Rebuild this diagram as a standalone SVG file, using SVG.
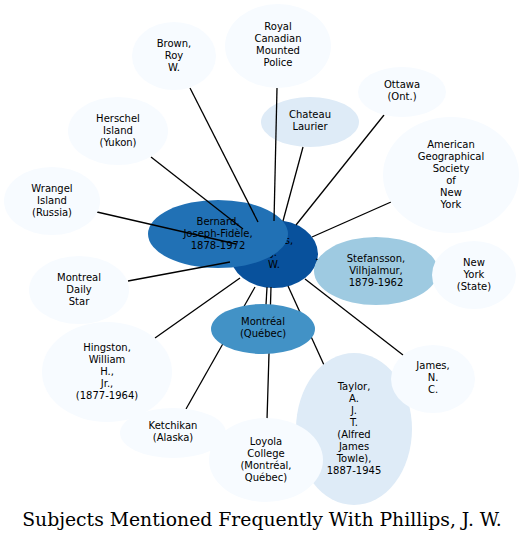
<svg xmlns="http://www.w3.org/2000/svg" width="524" height="541" viewBox="0 0 524 541">
<style>
text{font-family:"DejaVu Sans",sans-serif;font-size:10px;text-anchor:middle;fill:#000}
.e{stroke:#000;stroke-width:1.3;fill:none}
.t{font-family:"DejaVu Serif",serif;font-size:18.8px}
</style>
<rect width="524" height="541" fill="#fff"/>
<g id="n_phillips"><ellipse cx="274" cy="254" rx="44" ry="34" fill="#08519c"/><text x="274" y="244">Phillips,</text><text x="274" y="256">J.</text><text x="274" y="268">W.</text></g>
<g id="n_bernard"><ellipse cx="218" cy="234" rx="70" ry="34" fill="#2171b5"/><text x="218" y="225">Bernard,</text><text x="218" y="237">Joseph-Fidèle,</text><text x="218" y="249">1878-1972</text></g>
<g id="n_chateau"><ellipse cx="310" cy="122" rx="49" ry="25" fill="#deebf7"/><text x="310" y="118">Chateau</text><text x="310" y="130">Laurier</text></g>
<g id="edges">
<line class="e" x1="258" y1="222" x2="190" y2="88"/>
<line class="e" x1="274" y1="221" x2="277" y2="88"/>
<line class="e" x1="283" y1="221" x2="303" y2="147"/>
<line class="e" x1="296" y1="225" x2="384" y2="115"/>
<line class="e" x1="243" y1="229" x2="151" y2="157"/>
<line class="e" x1="312" y1="237" x2="391" y2="202"/>
<line class="e" x1="236" y1="244" x2="97" y2="212"/>
<line class="e" x1="230" y1="262" x2="128" y2="281"/>
<line class="e" x1="316" y1="259" x2="318" y2="260"/>
<line class="e" x1="240" y1="278" x2="155" y2="338"/>
<line class="e" x1="305" y1="279" x2="403" y2="355"/>
<line class="e" x1="255" y1="287" x2="186" y2="409"/>
<line class="e" x1="267" y1="287" x2="266" y2="305"/>
<line class="e" x1="271" y1="287" x2="267" y2="420"/>
<line class="e" x1="288" y1="286" x2="324" y2="365"/>
</g>
<g id="n_stefansson"><ellipse cx="376" cy="271" rx="62" ry="34" fill="#9ecae1"/><text x="376" y="262">Stefansson,</text><text x="376" y="274">Vilhjalmur,</text><text x="376" y="286">1879-1962</text></g>
<g id="n_montreal"><ellipse cx="263" cy="329" rx="52" ry="25" fill="#4292c6"/><text x="263" y="325">Montréal</text><text x="263" y="337">(Québec)</text></g>
<g id="n_taylor"><ellipse cx="354" cy="429" rx="58" ry="76" fill="#deebf7"/><text x="354" y="390">Taylor,</text><text x="354" y="402">A.</text><text x="354" y="414">J.</text><text x="354" y="426">T.</text><text x="354" y="438">(Alfred</text><text x="354" y="450">James</text><text x="354" y="462">Towle),</text><text x="354" y="474">1887-1945</text></g>
<g id="n_rcmp"><ellipse cx="278" cy="46" rx="53" ry="42" fill="#f7fbff"/><text x="278" y="30">Royal</text><text x="278" y="42">Canadian</text><text x="278" y="54">Mounted</text><text x="278" y="66">Police</text></g>
<g id="n_brown"><ellipse cx="174" cy="56" rx="42" ry="34" fill="#f7fbff"/><text x="174" y="47">Brown,</text><text x="174" y="59">Roy</text><text x="174" y="71">W.</text></g>
<g id="n_ottawa"><ellipse cx="402" cy="92" rx="44" ry="25" fill="#f7fbff"/><text x="402" y="88">Ottawa</text><text x="402" y="100">(Ont.)</text></g>
<g id="n_herschel"><ellipse cx="118" cy="131" rx="50" ry="34" fill="#f7fbff"/><text x="118" y="122">Herschel</text><text x="118" y="134">Island</text><text x="118" y="146">(Yukon)</text></g>
<g id="n_ags"><ellipse cx="451" cy="175" rx="68" ry="58" fill="#f7fbff"/><text x="451" y="148">American</text><text x="451" y="160">Geographical</text><text x="451" y="172">Society</text><text x="451" y="184">of</text><text x="451" y="196">New</text><text x="451" y="208">York</text></g>
<g id="n_wrangel"><ellipse cx="52" cy="201" rx="48" ry="34" fill="#f7fbff"/><text x="52" y="192">Wrangel</text><text x="52" y="204">Island</text><text x="52" y="216">(Russia)</text></g>
<g id="n_mds"><ellipse cx="79" cy="290" rx="50" ry="34" fill="#f7fbff"/><text x="79" y="281">Montreal</text><text x="79" y="293">Daily</text><text x="79" y="305">Star</text></g>
<g id="n_nystate"><ellipse cx="474" cy="275" rx="42" ry="34" fill="#f7fbff"/><text x="474" y="266">New</text><text x="474" y="278">York</text><text x="474" y="290">(State)</text></g>
<g id="n_hingston"><ellipse cx="107" cy="372" rx="65" ry="50" fill="#f7fbff"/><text x="107" y="351">Hingston,</text><text x="107" y="363">William</text><text x="107" y="375">H.,</text><text x="107" y="387">Jr.,</text><text x="107" y="399">(1877-1964)</text></g>
<g id="n_james"><ellipse cx="433" cy="379" rx="42" ry="34" fill="#f7fbff"/><text x="433" y="369">James,</text><text x="433" y="381">N.</text><text x="433" y="393">C.</text></g>
<g id="n_ketchikan"><ellipse cx="173" cy="433" rx="53" ry="25" fill="#f7fbff"/><text x="173" y="429">Ketchikan</text><text x="173" y="441">(Alaska)</text></g>
<g id="n_loyola"><ellipse cx="266" cy="460" rx="57" ry="42" fill="#f7fbff"/><text x="266" y="445">Loyola</text><text x="266" y="457">College</text><text x="266" y="469">(Montréal,</text><text x="266" y="481">Québec)</text></g>
<text class="t" x="262" y="526">Subjects Mentioned Frequently With Phillips, J. W.</text>
</svg>
